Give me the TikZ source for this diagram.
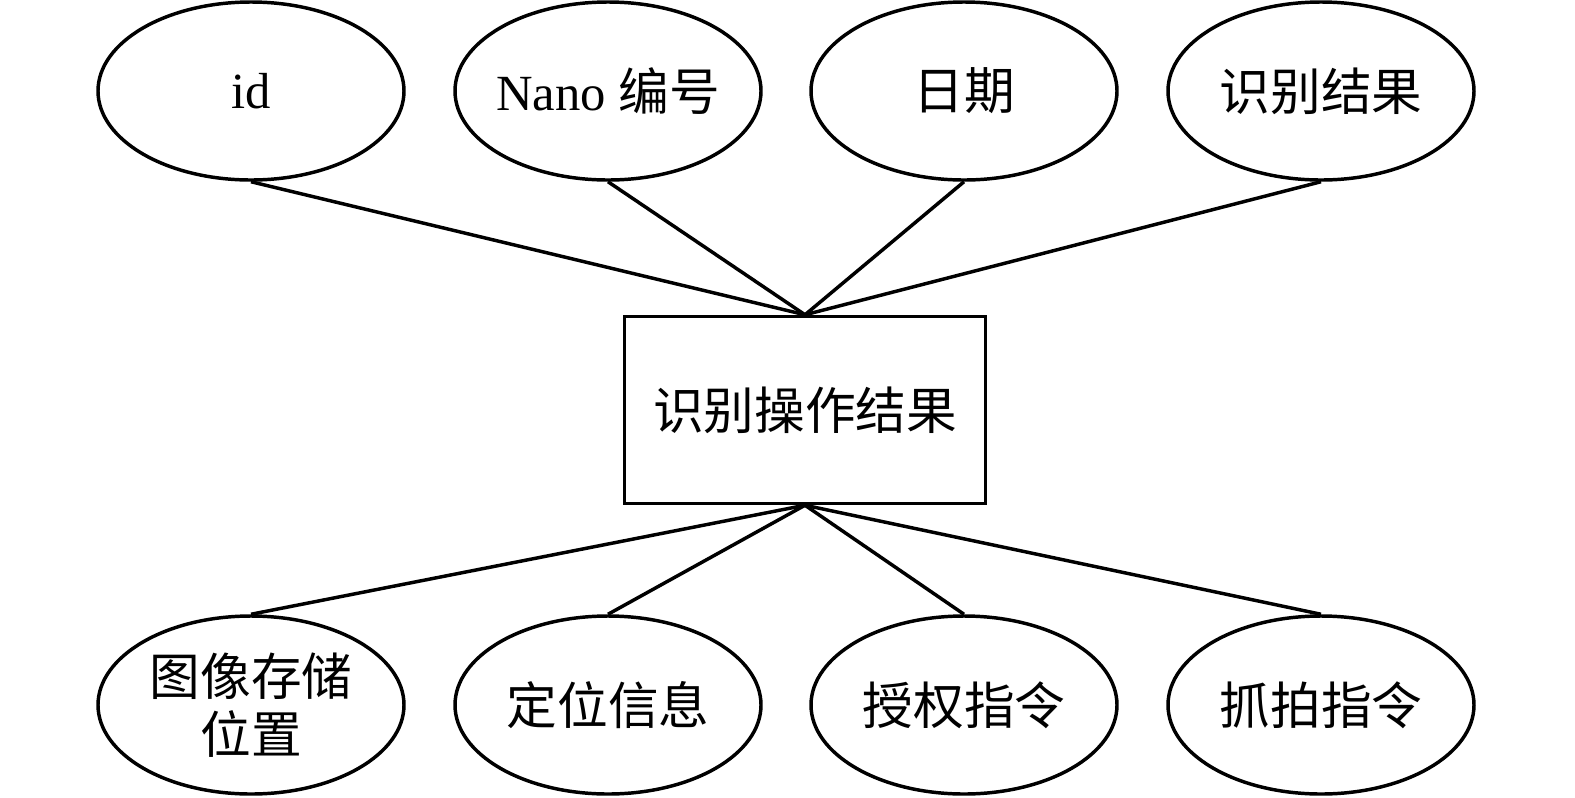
\documentclass[tikz,border=0pt]{standalone}
\usepackage{fontspec}
\setmainfont{Liberation Serif}
\newfontfamily\cjk{Noto Sans CJK SC}
\usetikzlibrary{shapes.geometric}
\tikzset{every picture/.style={line width=2.6pt}}
\tikzset{
  attr/.style={draw, ellipse, minimum width=229.5pt, minimum height=133.5pt, inner sep=0pt, align=center, font=\fontsize{38}{44}\selectfont},
  entity/.style={draw, rectangle, minimum width=270.75pt, minimum height=140.25pt, inner sep=0pt, font=\fontsize{38}{44}\selectfont\cjk}
}

\begin{document}
\begin{tikzpicture}[x=0.75pt,y=0.75pt,yscale=-1,xscale=1]
\useasboundingbox (0,0) rectangle (1575,797);

%Entity
\node [entity] (result) at (805,410) {识别操作结果};

%Top attributes
\node [attr] (id) at (251,91) {id};
\node [attr] (nano) at (608,91) {\makebox[0pt]{Nano {\cjk 编号}}};
\node [attr] (date) at (964,91) {\cjk 日期};
\node [attr] (recog) at (1321,91) {\cjk 识别结果};

%Bottom attributes
\node [attr] (image) at (251,705) {\cjk 图像存储\\\cjk 位置};
\node [attr] (locate) at (608,705) {\cjk 定位信息};
\node [attr] (auth) at (964,705) {\cjk 授权指令};
\node [attr] (snap) at (1321,705) {\cjk 抓拍指令};

%Connectors
\draw (id.south) -- (result.north);
\draw (nano.south) -- (result.north);
\draw (date.south) -- (result.north);
\draw (recog.south) -- (result.north);
\draw (result.south) -- (image.north);
\draw (result.south) -- (locate.north);
\draw (result.south) -- (auth.north);
\draw (result.south) -- (snap.north);

\end{tikzpicture}
\end{document}
